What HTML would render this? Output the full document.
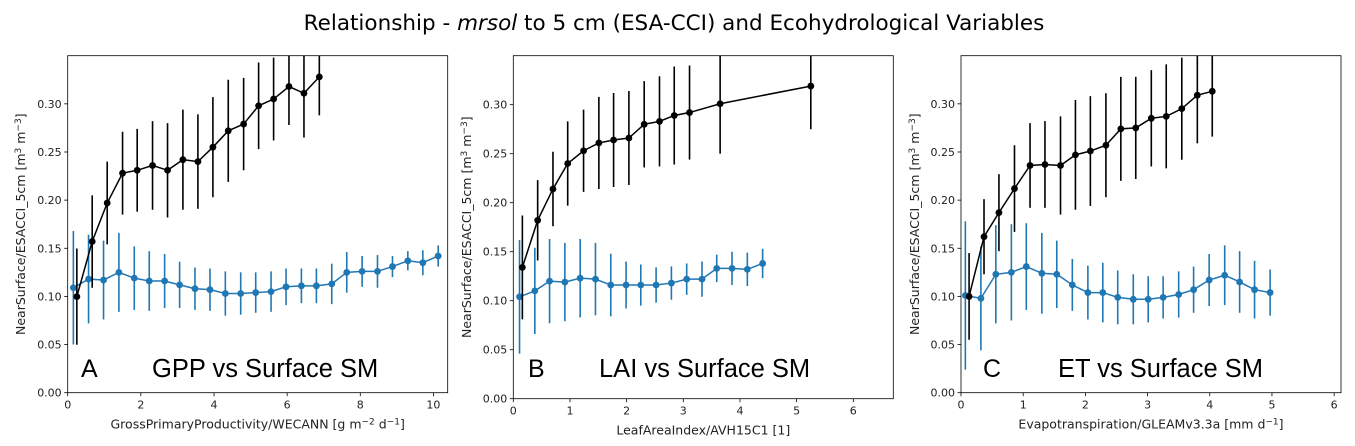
<!DOCTYPE html>
<html><head><meta charset="utf-8"><style>
body{margin:0;background:#fff;}
svg{display:block;}
</style></head><body>
<svg id="fig" width="1355" height="446" xmlns="http://www.w3.org/2000/svg">
<text x="674" y="30" text-anchor="middle" font-family="DejaVu Sans, Liberation Sans, sans-serif" font-size="21.5">Relationship - <tspan font-style="italic">mrsol</tspan> to 5 cm (ESA-CCI) and Ecohydrological Variables</text>
</svg>
<script>
// Panel A data
const aBlackX=[0.25,0.67,1.08,1.5,1.9,2.32,2.73,3.15,3.56,3.97,4.39,4.81,5.22,5.63,6.05,6.46,6.88];
const aBlackY=[0.0998,0.157,0.197,0.228,0.231,0.236,0.231,0.242,0.240,0.255,0.272,0.279,0.298,0.305,0.318,0.311,0.328];
const aBlackE=[0.05,0.048,0.043,0.043,0.043,0.046,0.049,0.052,0.049,0.052,0.053,0.048,0.045,0.043,0.04,0.046,0.04];
const aBlueX=[0.155,0.57,0.98,1.4,1.82,2.23,2.65,3.06,3.48,3.89,4.31,4.73,5.14,5.56,5.97,6.39,6.8,7.22,7.63,8.05,8.47,8.88,9.3,9.71,10.13];
const aBlueY=[0.109,0.118,0.117,0.125,0.119,0.116,0.116,0.112,0.108,0.107,0.103,0.103,0.104,0.105,0.110,0.111,0.111,0.113,0.125,0.126,0.126,0.131,0.137,0.135,0.142];
const aBlueE=[0.059,0.046,0.041,0.041,0.033,0.031,0.028,0.024,0.022,0.022,0.023,0.022,0.021,0.021,0.019,0.018,0.018,0.021,0.021,0.016,0.017,0.011,0.01,0.013,0.011];
// Panel B data
const bBlackX=[0.16,0.43,0.7,0.96,1.24,1.51,1.77,2.04,2.31,2.58,2.84,3.11,3.65,5.25];
const bBlackY=[0.134,0.182,0.214,0.240,0.253,0.261,0.264,0.266,0.280,0.283,0.289,0.292,0.301,0.319];
const bBlackE=[0.053,0.041,0.038,0.043,0.042,0.047,0.048,0.048,0.044,0.046,0.05,0.048,0.051,0.044];
const bBlueX=[0.11,0.38,0.64,0.91,1.18,1.45,1.72,1.99,2.25,2.52,2.79,3.06,3.33,3.59,3.86,4.13,4.4];
const bBlueY=[0.104,0.110,0.120,0.119,0.123,0.122,0.116,0.116,0.116,0.116,0.118,0.122,0.122,0.133,0.133,0.132,0.138];
const bBlueE=[0.058,0.044,0.043,0.04,0.04,0.037,0.032,0.024,0.021,0.018,0.017,0.016,0.018,0.014,0.017,0.017,0.015];
// Panel C data
const cBlackX=[0.13,0.37,0.61,0.86,1.11,1.35,1.6,1.84,2.08,2.33,2.57,2.81,3.06,3.3,3.55,3.8,4.04];
const cBlackY=[0.1,0.162,0.187,0.212,0.236,0.237,0.236,0.247,0.251,0.257,0.274,0.275,0.285,0.287,0.295,0.309,0.313];
const cBlackE=[0.045,0.039,0.04,0.045,0.044,0.045,0.051,0.057,0.057,0.054,0.054,0.053,0.05,0.054,0.053,0.05,0.047];
const cBlueX=[0.07,0.32,0.56,0.81,1.05,1.3,1.54,1.79,2.04,2.28,2.52,2.77,3.01,3.25,3.5,3.74,3.99,4.24,4.48,4.72,4.97];
const cBlueY=[0.101,0.098,0.123,0.125,0.131,0.124,0.123,0.112,0.104,0.104,0.099,0.097,0.097,0.099,0.102,0.107,0.117,0.122,0.115,0.107,0.104];
const cBlueE=[0.077,0.054,0.051,0.05,0.045,0.042,0.035,0.027,0.028,0.031,0.028,0.026,0.024,0.022,0.024,0.024,0.027,0.031,0.032,0.03,0.024];
const yTicks=[0,0.05,0.10,0.15,0.20,0.25,0.30];
const yTickLabels=["0.00","0.05","0.10","0.15","0.20","0.25","0.30"];
const aXTicks=[0,2,4,6,8,10];
const bXTicks=[0,1,2,3,4,5,6];
const cXTicks=[0,1,2,3,4,5,6];

const NS="http://www.w3.org/2000/svg";
const svg=document.getElementById('fig');
const FONT="DejaVu Sans, Liberation Sans, sans-serif";
function mk(tag,attrs,parent){const e=document.createElementNS(NS,tag);for(const k in attrs)e.setAttribute(k,attrs[k]);(parent||svg).appendChild(e);return e;}

function panel(id,box,xmax,xTicks,xlabelHTML,letter,letterX,annot,annotX,ylabX,series){
  const {l,r,t,b}=box;
  const sx=v=>l+(v/xmax)*(r-l);
  const sy=v=>b-(v/0.35)*(b-t);
  const g=mk('g',{});
  
  
  const cp=mk('clipPath',{id:'clip'+id},g);
  mk('rect',{x:l,y:t,width:r-l,height:b-t},cp);
  yTicks.forEach((v,i)=>{
    const y=sy(v);
    const tk=mk('line',{x1:l-3.5,x2:l,y1:y,y2:y,stroke:'#000','stroke-width':0.8},g);
    
    
    const tx=mk('text',{x:l-6,y:y+4,'text-anchor':'end','font-family':FONT,'font-size':11,fill:'#222'},g);
    
    
    tx.textContent=yTickLabels[i];
  });
  xTicks.forEach(v=>{
    const x=sx(v);
    const tk=mk('line',{x1:x,x2:x,y1:b,y2:b+3.5,stroke:'#000','stroke-width':0.8},g);
    
    
    const tx=mk('text',{x:x,y:b+16,'text-anchor':'middle','font-family':FONT,'font-size':11,fill:'#222'},g);
    
    
    tx.textContent=String(v);
  });
  const xl=mk('text',{x:(l+r)/2,y:b+36,'text-anchor':'middle','font-family':FONT,'font-size':12.5,fill:'#222'},g);
  
  
  xl.innerHTML=xlabelHTML;
  const yl=mk('text',{x:0,y:0,'text-anchor':'middle','font-family':FONT,'font-size':12.5,fill:'#222',transform:`translate(${ylabX},${(t+b)/2}) rotate(-90)`},g);
  
  
  yl.innerHTML='NearSurface/ESACCI_5cm [m<tspan dy="-4" font-size="9">3</tspan><tspan dy="4"> m</tspan><tspan dy="-4" font-size="9">−3</tspan><tspan dy="4">]</tspan>';
  const dg=mk('g',{'clip-path':`url(#clip${id})`},g);
  series.forEach(s=>{
    const sg=mk('g',{},dg);
    
    
    s.x.forEach((xv,i)=>{
      const e=mk('line',{x1:sx(xv),x2:sx(xv),y1:sy(s.y[i]-s.e[i]),y2:sy(s.y[i]+s.e[i]),stroke:s.c,'stroke-width':1.6},sg);
      
      
    });
    const pl=mk('polyline',{points:s.x.map((xv,i)=>sx(xv)+','+sy(s.y[i])).join(' '),fill:'none',stroke:s.c,'stroke-width':1.5},sg);
    
    
    s.x.forEach((xv,i)=>{
      const p=mk('circle',{cx:sx(xv),cy:sy(s.y[i]),r:3.4,fill:s.c},sg);
      
      
    });
  });
  const fr=mk('rect',{x:l,y:t,width:r-l,height:b-t,fill:'none',stroke:'#000','stroke-width':0.8},g);
  
  
  const lt=mk('text',{x:letterX,y:377,'font-family':'Liberation Sans, sans-serif','font-size':25,fill:'#000'},g);
  
  
  lt.textContent=letter;
  const an=mk('text',{x:annotX,y:377,'font-family':'Liberation Sans, sans-serif','font-size':25.5,fill:'#000'},g);
  
  
  an.textContent=annot;
}
const BLUE='#1f77b4';
panel('a',{l:67.7,r:447.7,t:55.7,b:392.7},10.39,aXTicks,'GrossPrimaryProductivity/WECANN [g m<tspan dy="-4" font-size="9">−2</tspan><tspan dy="4"> d</tspan><tspan dy="-4" font-size="9">−1</tspan><tspan dy="4">]</tspan>','A',81,'GPP vs Surface SM',152,25,
  [{name:'blue',x:aBlueX,y:aBlueY,e:aBlueE,c:BLUE},{name:'black',x:aBlackX,y:aBlackY,e:aBlackE,c:'#000'}]);
panel('b',{l:513.3,r:893.3,t:55.7,b:398.7},6.706,bXTicks,'LeafAreaIndex/AVH15C1 [1]','B',528,'LAI vs Surface SM',599,471,
  [{name:'blue',x:bBlueX,y:bBlueY,e:bBlueE,c:BLUE},{name:'black',x:bBlackX,y:bBlackY,e:bBlackE,c:'#000'}]);
panel('c',{l:961,r:1341,t:55.7,b:392.7},6.11,cXTicks,'Evapotranspiration/GLEAMv3.3a [mm d<tspan dy="-4" font-size="9">−1</tspan><tspan dy="4">]</tspan>','C',983,'ET vs Surface SM',1058,919,
  [{name:'blue',x:cBlueX,y:cBlueY,e:cBlueE,c:BLUE},{name:'black',x:cBlackX,y:cBlackY,e:cBlackE,c:'#000'}]);
</script>
</body></html>
